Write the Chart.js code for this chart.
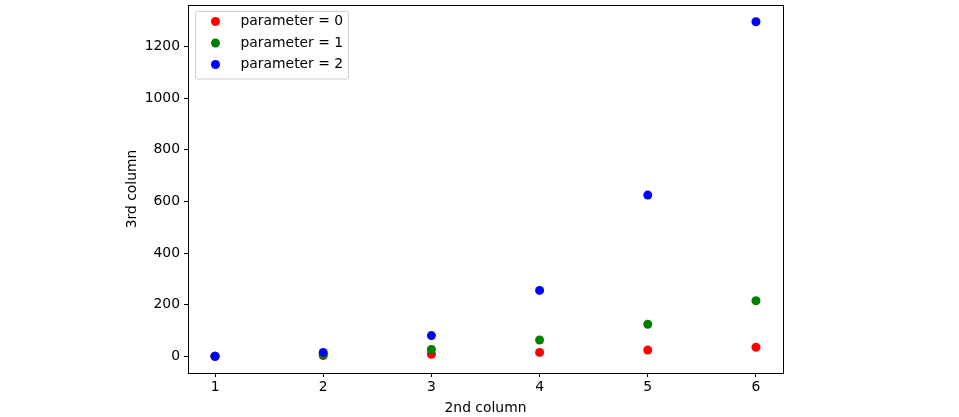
<!DOCTYPE html>
<html>
<head>
<meta charset="utf-8">
<script src="https://cdn.jsdelivr.net/npm/chart.js@4/dist/chart.umd.min.js"></script>
<style>
  html, body { margin:0; padding:0; background:#fff; }
  #wrap { width:959px; height:417px; position:relative; }
</style>
</head>
<body>
<div id="wrap"><canvas id="c" width="959" height="417"></canvas></div>
<script>
// data
const xs      = [1, 2, 3, 4, 5, 6];
const param0  = [1, 4, 9, 16, 25, 36];
const param1  = [1, 8, 27, 64, 125, 216];
const param2  = [1, 16, 81, 256, 625, 1296];
const labels  = ['parameter = 0', 'parameter = 1', 'parameter = 2'];
const colors  = ['#ff0000', '#008000', '#0000ff'];
const xTicks  = [1, 2, 3, 4, 5, 6];
const yTicks  = [0, 200, 400, 600, 800, 1000, 1200];

const FONT = { family: 'DejaVu Sans', size: 13.9 };
const R = 4.5;

const pts = ys => xs.map((x, i) => ({ x, y: ys[i] }));

// axes frame (matplotlib draws all four spines)
const frame = {
  id: 'frame',
  afterDatasetsDraw(chart) {
    const a = chart.chartArea, ctx = chart.ctx;
    ctx.save();
    ctx.strokeStyle = '#000';
    ctx.lineWidth = 1;
    ctx.strokeRect(Math.round(a.left) + 0.5, Math.round(a.top) + 0.5,
                   Math.round(a.right - a.left), Math.round(a.bottom - a.top));
    ctx.restore();
  }
};

// legend drawn inside the plot, top-left, like matplotlib's "best"
const innerLegend = {
  id: 'innerLegend',
  afterDraw(chart) {
    const a = chart.chartArea, ctx = chart.ctx;
    const ds = chart.data.datasets;
    const x0 = a.left + 7.5, y0 = a.top + 6.5, w = 153, rowH = 21.5;
    const h = ds.length * rowH + 3;
    ctx.save();
    ctx.fillStyle = 'rgba(255,255,255,0.8)';
    ctx.strokeStyle = '#cccccc';
    ctx.lineWidth = 1;
    ctx.beginPath();
    ctx.roundRect(x0, y0, w, h, 2);
    ctx.fill();
    ctx.stroke();
    ctx.font = `${FONT.size}px ${FONT.family}`;
    ctx.textBaseline = 'middle';
    ds.forEach((d, i) => {
      const cy = y0 + 10 + i * rowH;
      ctx.fillStyle = d.backgroundColor;
      ctx.beginPath();
      ctx.arc(x0 + 20, cy, R, 0, Math.PI * 2);
      ctx.fill();
      ctx.fillStyle = '#000';
      ctx.fillText(d.label, x0 + 45, cy);
    });
    ctx.restore();
  }
};

new Chart(document.getElementById('c'), {
  type: 'scatter',
  data: {
    datasets: [param0, param1, param2].map((ys, i) => ({
      label: labels[i],
      data: pts(ys),
      backgroundColor: colors[i],
      borderWidth: 0,
      pointRadius: R,
      pointHoverRadius: R,
      order: 2 - i,   // later series on top, as matplotlib does
    })),
  },
  options: {
    responsive: false,
    animation: false,
    layout: { padding: { left: 120, right: 176, top: 5, bottom: 0 } },
    plugins: { legend: { display: false }, tooltip: { enabled: false } },
    scales: {
      x: {
        type: 'linear', min: 0.75, max: 6.25,
        afterBuildTicks: s => { s.ticks = xTicks.map(v => ({ value: v })); },
        afterFit: s => { s.height = 44; s.paddingLeft = 0; s.paddingRight = 0; },
        grid: { drawOnChartArea: false, drawTicks: true, tickLength: 4, color: '#000' },
        border: { display: false },
        ticks: { color: '#000', font: FONT, padding: 2, maxRotation: 0, callback: v => String(v) },
        title: { display: true, text: '2nd column', color: '#000', font: FONT, padding: { top: 0, bottom: 0 } },
      },
      y: {
        type: 'linear', min: -63.75, max: 1360.75,
        afterBuildTicks: s => { s.ticks = yTicks.map(v => ({ value: v })); },
        afterFit: s => { s.width = 68; s.paddingTop = 0; s.paddingBottom = 0; },
        grid: { drawOnChartArea: false, drawTicks: true, tickLength: 4, color: '#000' },
        border: { display: false },
        ticks: { color: '#000', font: FONT, padding: 4, callback: v => String(v) },
        title: { display: true, text: '3rd column', color: '#000', font: FONT, padding: { top: 4, bottom: 0 } },
      },
    },
  },
  plugins: [frame, innerLegend],
});
</script>
</body>
</html>
